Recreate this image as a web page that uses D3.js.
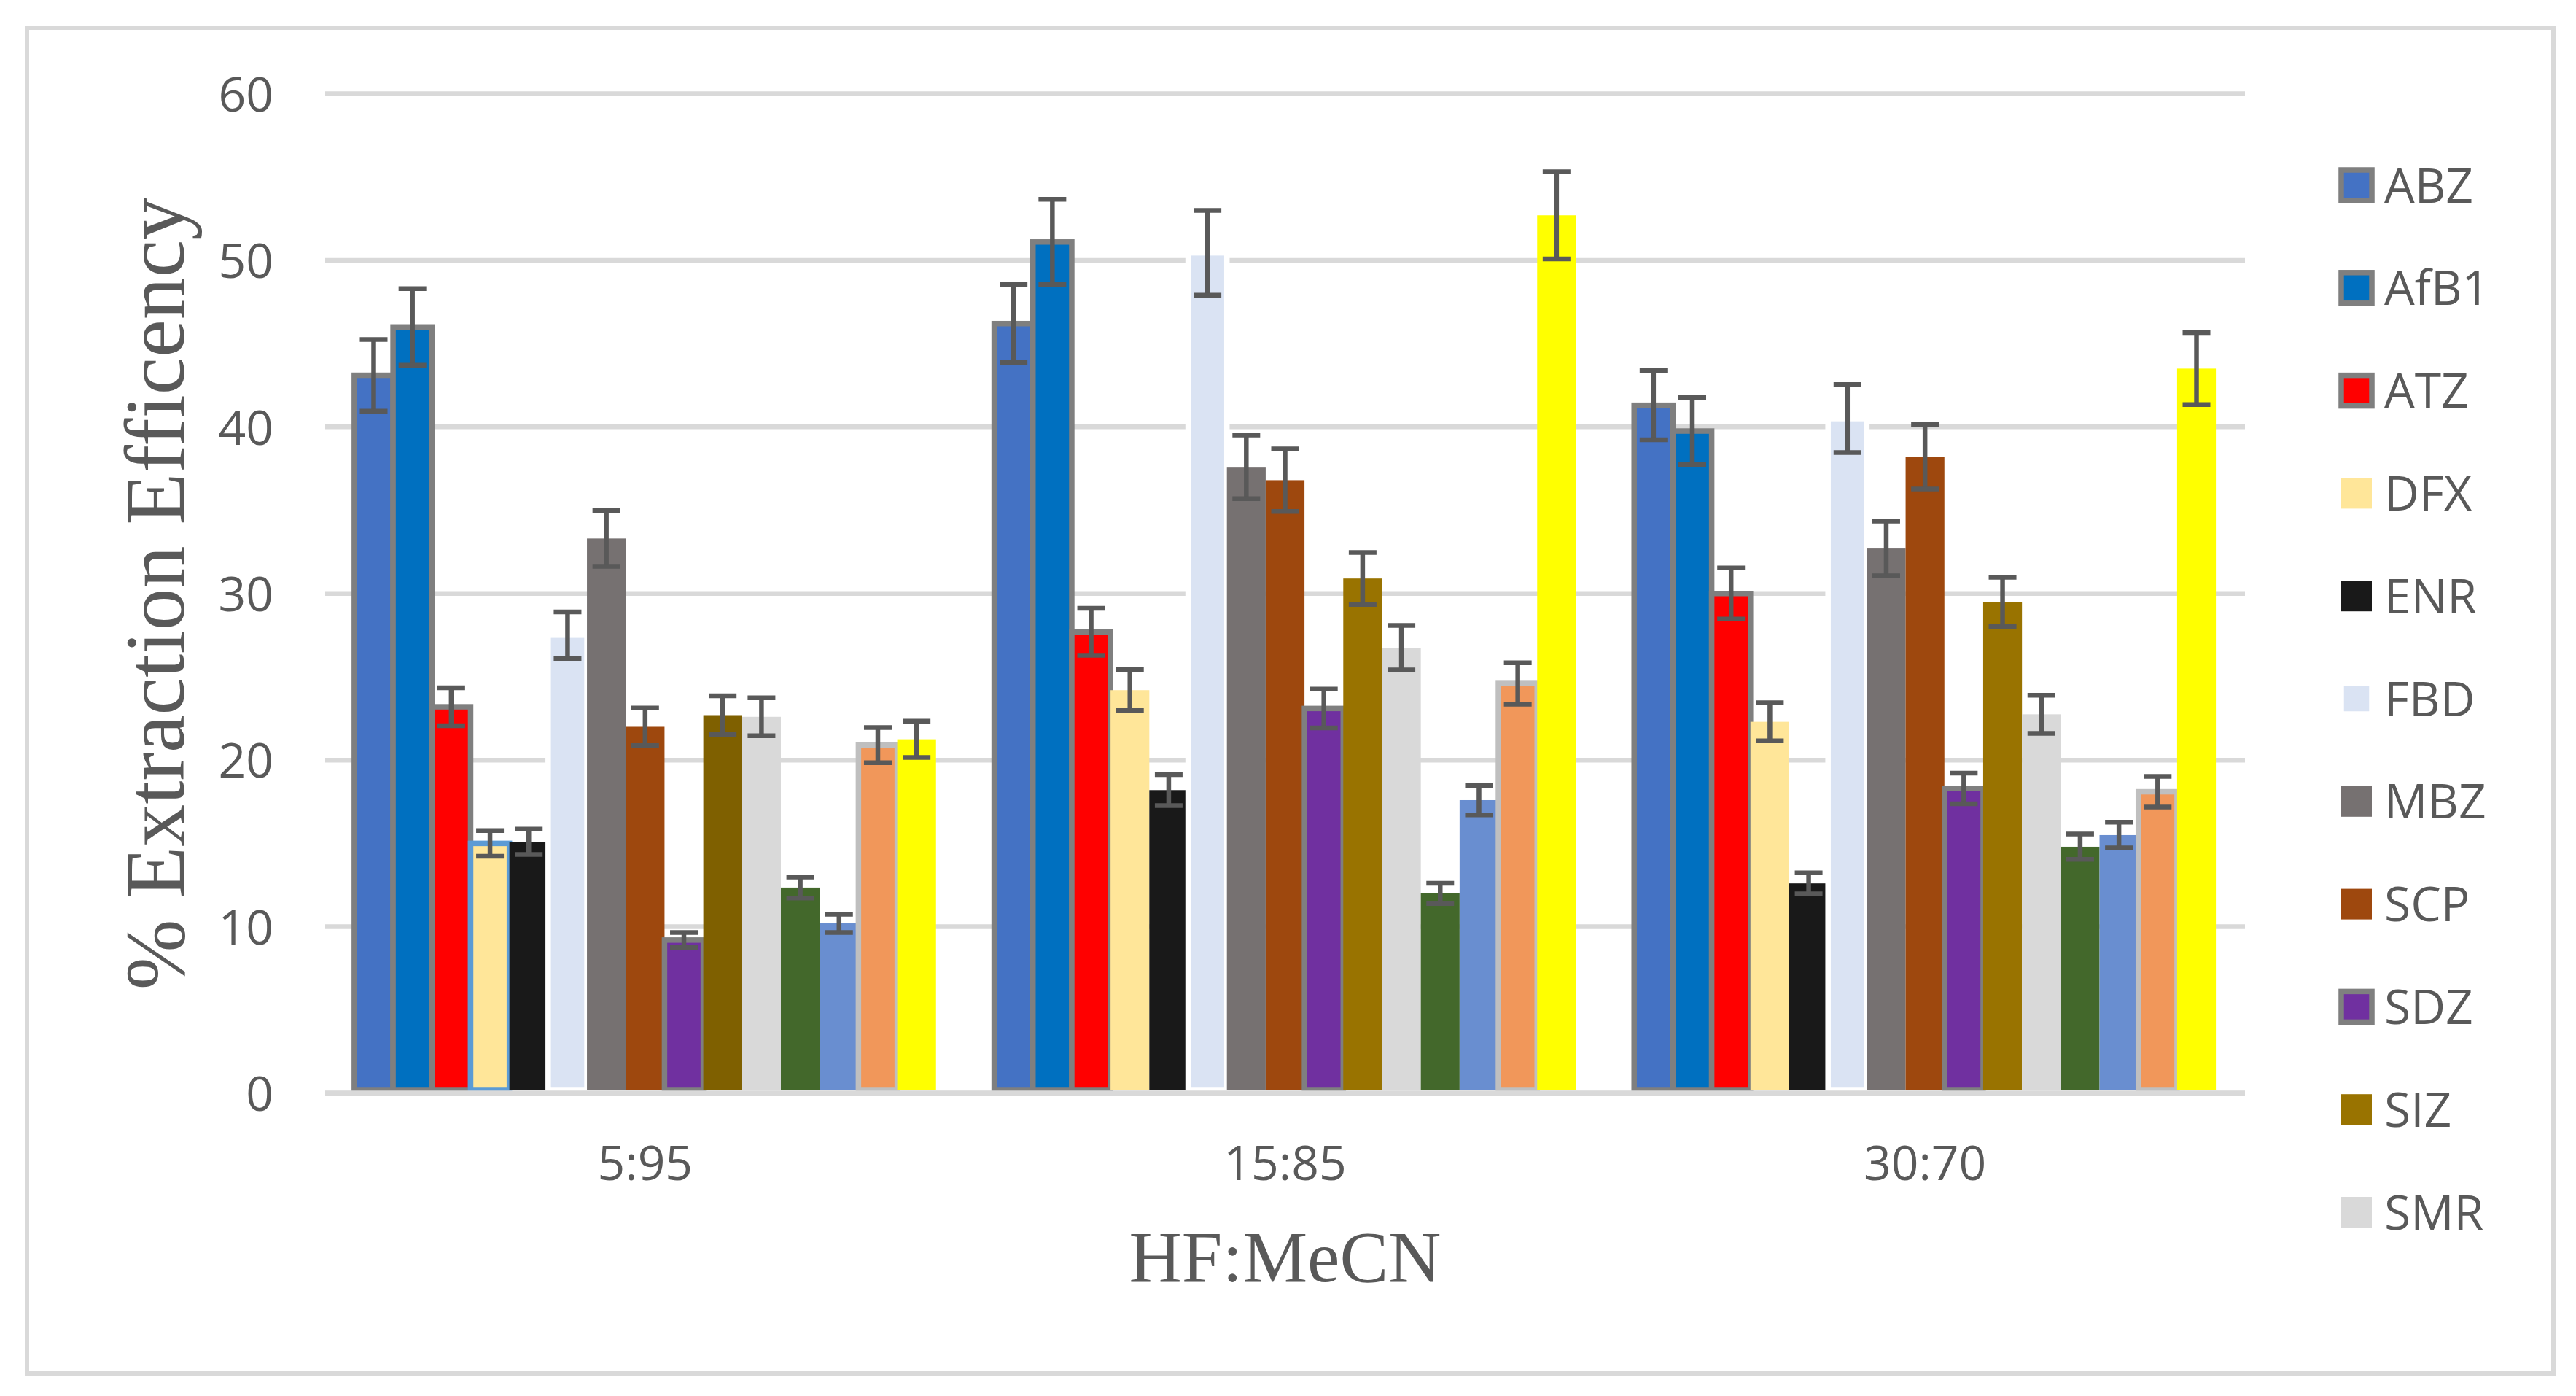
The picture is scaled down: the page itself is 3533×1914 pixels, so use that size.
<!DOCTYPE html>
<html>
<head>
<meta charset="utf-8">
<script src="https://cdn.jsdelivr.net/npm/d3@7"></script>
<style>
  html, body { margin: 0; padding: 0; background: #ffffff; }
  svg { display: block; }
</style>
</head>
<body>
<svg id="chart" width="3533" height="1914"></svg>
<script>
// ---------------- DATA ----------------
const categories = ["5:95", "15:85", "30:70"];
const seriesNames = ["ABZ", "AfB1", "ATZ", "DFX", "ENR", "FBD", "MBZ", "SCP", "SDZ", "SIZ", "SMR",
                     "Series12", "Series13", "Series14", "Series15"];
const legendCount = 11; // only the first 11 entries are visible in the legend
// values per series: [5:95, 15:85, 30:70]
const ABZ  = [43.1, 46.2, 41.3];
const AfB1 = [46.0, 51.1, 39.75];
const ATZ  = [23.2, 27.7, 30.0];
const DFX  = [15.0, 24.2, 22.3];
const ENR  = [15.1, 18.2, 12.6];
const FBD  = [27.5, 50.45, 40.5];
const MBZ  = [33.3, 37.6, 32.7];
const SCP  = [22.0, 36.8, 38.2];
const SDZ  = [9.2, 23.1, 18.3];
const SIZ  = [22.7, 30.9, 29.5];
const SMR  = [22.6, 26.75, 22.75];
const S12  = [12.35, 12.0, 14.8];
const S13  = [10.2, 17.6, 15.5];
const S14  = [20.9, 24.6, 18.1];
const S15  = [21.25, 52.7, 43.5];
const values = [ABZ, AfB1, ATZ, DFX, ENR, FBD, MBZ, SCP, SDZ, SIZ, SMR, S12, S13, S14, S15];
// error bar half-widths (same order)
const errors = [
  [2.15, 2.34, 2.07],
  [2.3, 2.56, 2.0],
  [1.14, 1.41, 1.53],
  [0.77, 1.23, 1.14],
  [0.76, 0.93, 0.63],
  [1.4, 2.54, 2.04],
  [1.67, 1.91, 1.64],
  [1.13, 1.88, 1.93],
  [0.45, 1.17, 0.92],
  [1.16, 1.56, 1.47],
  [1.14, 1.34, 1.14],
  [0.63, 0.61, 0.76],
  [0.55, 0.89, 0.77],
  [1.06, 1.24, 0.92],
  [1.09, 2.62, 2.16]
];
const yTicks = [0, 10, 20, 30, 40, 50, 60];
const yTitle = "% Extraction Efficency";
const xTitle = "HF:MeCN";

// ---------------- STYLE ----------------
const fills = ["#4472c4", "#0070c0", "#ff0000", "#ffe699", "#191919", "#dae3f3", "#767171",
               "#9e480e", "#7030a0", "#997300", "#d9d9d9", "#43682b", "#698ed0", "#f1975a", "#ffff00"];
const strokes = ["#7f7f7f", "#7f7f7f", "#7f7f7f", null, null, "#ffffff", null,
                 null, "#7f7f7f", null, null, null, null, "#bfbfbf", null];
// per-point deviations seen in the picture
const fillOverride = { "SIZ": ["#7f6000", null, null] };
const strokeOverride = { "DFX": ["#5b9bd5", null, null] };

const textColor = "#595959";
const gridColor = "#d9d9d9";

const plot = { left: 446, right: 3079, top: 128.5, bottom: 1499 };

const svg = d3.select("#chart");

// outer border
svg.append("rect")
  .attr("x", 37).attr("y", 38).attr("width", 3465).attr("height", 1845)
  .attr("fill", "#ffffff").attr("stroke", gridColor).attr("stroke-width", 6);

// scales
const x0 = d3.scaleBand().domain(categories).range([plot.left, plot.right]).paddingInner(0).paddingOuter(0);
const x1 = d3.scaleBand().domain(seriesNames).range([0, x0.bandwidth()]).paddingInner(0).paddingOuter(0.75);
const y = d3.scaleLinear().domain([0, 60]).range([plot.bottom, plot.top]);

// gridlines
svg.append("g").selectAll("line").data(yTicks).join("line")
  .attr("x1", plot.left).attr("x2", plot.right)
  .attr("y1", d => y(d)).attr("y2", d => y(d))
  .attr("stroke", gridColor).attr("stroke-width", 6.5);

// y axis labels
const yAxis = d3.axisLeft(y).tickValues(yTicks).tickSize(0).tickPadding(71).tickFormat(d3.format("d"));
const gy = svg.append("g").attr("transform", `translate(${plot.left},0)`).call(yAxis);
gy.select(".domain").remove();
gy.selectAll("text")
  .attr("font-family", "'Open Sans', sans-serif").attr("font-size", 66)
  .attr("fill", textColor).attr("dy", "0.36em");

// x axis labels
const xAxis = d3.axisBottom(x0).tickSize(0).tickPadding(0);
const gx = svg.append("g").attr("transform", `translate(0,${plot.bottom})`).call(xAxis);
gx.select(".domain").remove();
gx.selectAll("text")
  .attr("font-family", "'Open Sans', sans-serif").attr("font-size", 66)
  .attr("fill", textColor).attr("y", 119).attr("dy", 0);

// bars
const barData = [];
seriesNames.forEach((s, si) => {
  categories.forEach((c, ci) => {
    const fo = fillOverride[s] && fillOverride[s][ci];
    const so = strokeOverride[s] && strokeOverride[s][ci];
    barData.push({
      series: s, cat: c, value: values[si][ci], err: errors[si][ci],
      fill: fo || fills[si], stroke: so || strokes[si]
    });
  });
});

const gBars = svg.append("g");
gBars.selectAll("rect").data(barData).join("rect")
  .attr("x", d => x0(d.cat) + x1(d.series))
  .attr("y", d => y(d.value))
  .attr("width", x1.bandwidth())
  .attr("height", d => y(0) - y(d.value) - 4)
  .attr("fill", d => d.fill)
  .attr("stroke", d => d.stroke || "none")
  .attr("stroke-width", d => d.stroke ? 7.5 : 0);

// category axis line drawn over the bar bases
svg.append("line")
  .attr("x1", plot.left).attr("x2", plot.right)
  .attr("y1", y(0)).attr("y2", y(0))
  .attr("stroke", gridColor).attr("stroke-width", 7.5);

// error bars
const capW = 38;
const gErr = svg.append("g").attr("stroke", textColor).attr("stroke-width", 6.5).attr("fill", "none");
barData.forEach(d => {
  const cx = x0(d.cat) + x1(d.series) + x1.bandwidth() / 2;
  const yHi = y(d.value + d.err), yLo = y(d.value - d.err);
  gErr.append("line").attr("x1", cx).attr("x2", cx).attr("y1", yHi).attr("y2", yLo);
  gErr.append("line").attr("x1", cx - capW / 2).attr("x2", cx + capW / 2).attr("y1", yHi).attr("y2", yHi);
  gErr.append("line").attr("x1", cx - capW / 2).attr("x2", cx + capW / 2).attr("y1", yLo).attr("y2", yLo);
});

// axis titles
svg.append("text")
  .attr("transform", `translate(252,814) rotate(-90)`)
  .attr("text-anchor", "middle")
  .attr("font-family", "'Liberation Serif', 'Times New Roman', serif")
  .attr("font-size", 116).attr("fill", textColor)
  .text(yTitle);

svg.append("text")
  .attr("x", (plot.left + plot.right) / 2).attr("y", 1757)
  .attr("text-anchor", "middle")
  .attr("font-family", "'Liberation Serif', 'Times New Roman', serif")
  .attr("font-size", 100).attr("fill", textColor)
  .text(xTitle);

// legend
const legendY0 = 254, legendStep = 140.8;
const legendData = seriesNames.slice(0, legendCount).map((s, i) => ({ s, i }));
const gLeg = svg.append("g");
const items = gLeg.selectAll("g").data(legendData).join("g")
  .attr("transform", d => `translate(0,${legendY0 + d.i * legendStep})`);
items.append("rect")
  .attr("x", 3211).attr("y", -21).attr("width", 42).attr("height", 42)
  .attr("fill", d => fills[d.i])
  .attr("stroke", d => strokes[d.i] || "none")
  .attr("stroke-width", d => strokes[d.i] ? 7.5 : 0);
items.append("text")
  .attr("x", 3270).attr("y", 23.5)
  .attr("font-family", "'Open Sans', sans-serif").attr("font-size", 66)
  .attr("fill", textColor)
  .text(d => d.s);
</script>
</body>
</html>
